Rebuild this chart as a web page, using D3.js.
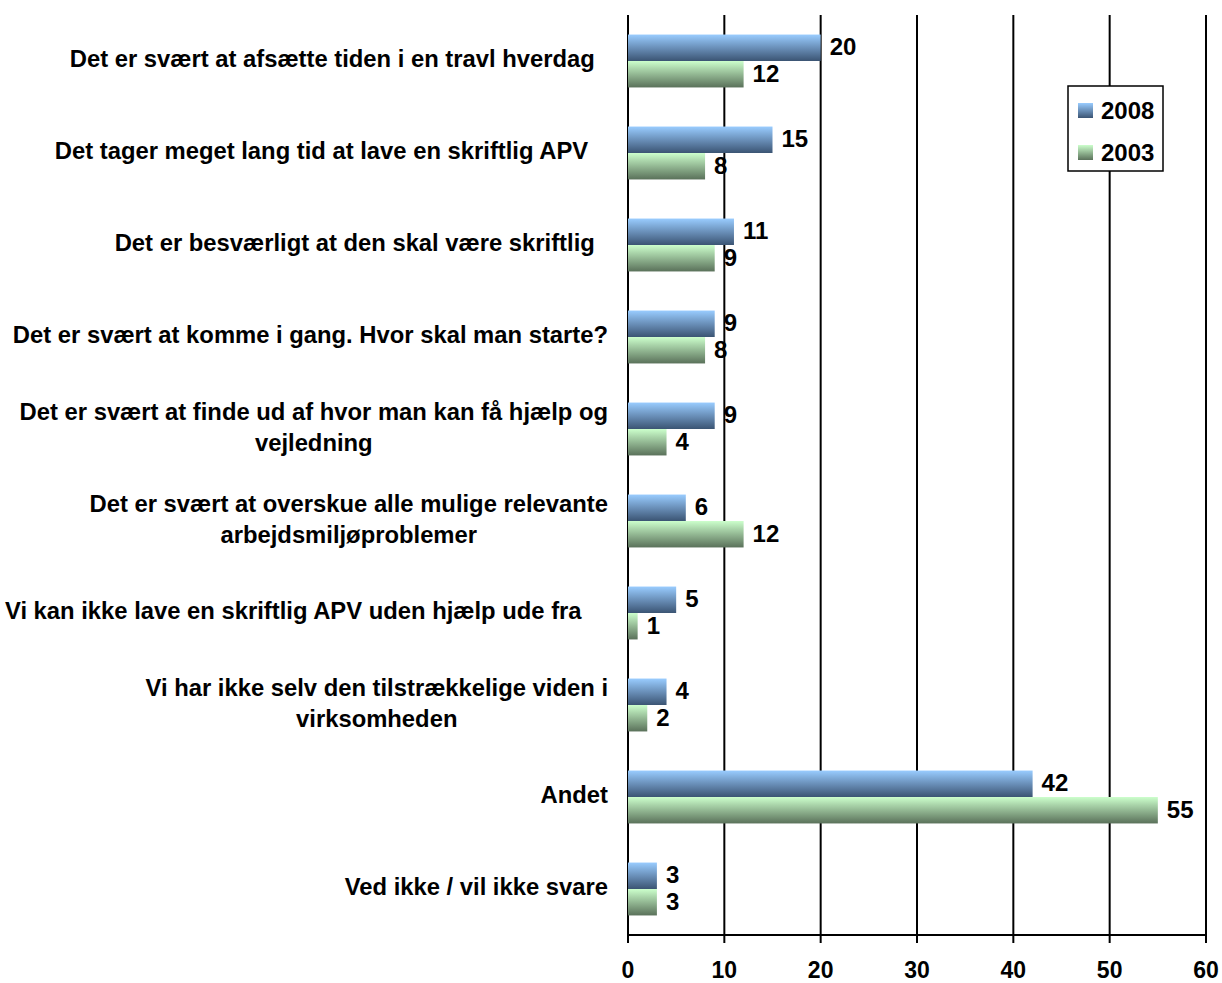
<!DOCTYPE html>
<html>
<head>
<meta charset="utf-8">
<script src="https://cdn.jsdelivr.net/npm/d3@7"></script>
<style>
  body { margin: 0; background: #fff; }
  text { font-family: "Liberation Sans", Arial, sans-serif; font-weight: bold; fill: #000; }
</style>
</head>
<body>
<div id="chart"></div>
<script>
// categories, top to bottom (\n = line break, trailing spaces as in the original)
const categories = [
    "Det er svært at afsætte tiden i en travl hverdag  ",
    "Det tager meget lang tid at lave en skriftlig APV   ",
    "Det er besværligt at den skal være skriftlig  ",
    "Det er svært at komme i gang. Hvor skal man starte?",
    "Det er svært at finde ud af hvor man kan få hjælp og\nvejledning",
    "Det er svært at overskue alle mulige relevante\narbejdsmiljøproblemer",
    "Vi kan ikke lave en skriftlig APV uden hjælp ude fra    ",
    "Vi har ikke selv den tilstrækkelige viden i\nvirksomheden",
    "Andet",
    "Ved ikke / vil ikke svare"
];
const series = ["2008", "2003"];
const values2008 = [20, 15, 11, 9, 9, 6, 5, 4, 42, 3];
const values2003 = [12, 8, 9, 8, 4, 12, 1, 2, 55, 3];
const xTicks = [0, 10, 20, 30, 40, 50, 60];

const width = 1222, height = 983;
const margin = { top: 15, right: 16, bottom: 48, left: 628 };

const svg = d3.select("#chart").append("svg")
    .attr("width", width)
    .attr("height", height);

const defs = svg.append("defs");
const grads = [
    { id: "g2008", top: "#99ccff", bottom: "#3b5473" },
    { id: "g2003", top: "#ccffcc", bottom: "#5a715a" }
];
grads.forEach(g => {
    const lg = defs.append("linearGradient").attr("id", g.id)
        .attr("x1", 0).attr("y1", 0).attr("x2", 0).attr("y2", 1);
    lg.append("stop").attr("offset", "0%").attr("stop-color", g.top);
    lg.append("stop").attr("offset", "100%").attr("stop-color", g.bottom);
});
const fillFor = { "2008": "url(#g2008)", "2003": "url(#g2003)" };

const x = d3.scaleLinear()
    .domain([0, 60])
    .range([margin.left, width - margin.right]);

const y = d3.scaleBand()
    .domain(d3.range(categories.length))
    .range([margin.top, height - margin.bottom])
    .paddingInner(0.425)
    .paddingOuter(0.2125);

const ySub = d3.scaleBand()
    .domain(series)
    .range([0, y.bandwidth()]);

const plotBottom = height - margin.bottom;

// vertical gridlines (extend down as tick marks)
svg.append("g")
    .selectAll("line")
    .data(xTicks)
    .join("line")
    .attr("x1", d => x(d)).attr("x2", d => x(d))
    .attr("y1", margin.top).attr("y2", plotBottom + 8)
    .attr("stroke", "#000")
    .attr("stroke-width", 2);

// x axis line
svg.append("line")
    .attr("x1", x(0)).attr("x2", x(60))
    .attr("y1", plotBottom).attr("y2", plotBottom)
    .attr("stroke", "#000")
    .attr("stroke-width", 2);

// tick labels
svg.append("g")
    .selectAll("text")
    .data(xTicks)
    .join("text")
    .attr("x", d => x(d))
    .attr("y", plotBottom + 43)
    .attr("text-anchor", "middle")
    .style("font-size", "23px")
    .text(d => d);

// bars
const rows = categories.map((c, i) => ({ i, "2008": values2008[i], "2003": values2003[i] }));

const groups = svg.append("g")
    .selectAll("g")
    .data(rows)
    .join("g")
    .attr("transform", d => `translate(0,${y(d.i)})`);

groups.selectAll("rect")
    .data(d => series.map(s => ({ s, v: d[s] })))
    .join("rect")
    .attr("x", x(0))
    .attr("y", d => ySub(d.s))
    .attr("width", d => x(d.v) - x(0))
    .attr("height", ySub.bandwidth())
    .attr("fill", d => fillFor[d.s]);

groups.selectAll("text.val")
    .data(d => series.map(s => ({ s, v: d[s] })))
    .join("text")
    .attr("class", "val")
    .attr("x", d => x(d.v) + 9)
    .attr("y", d => ySub(d.s) + ySub.bandwidth() / 2 - 1)
    .attr("dy", "0.35em")
    .style("font-size", "24px")
    .text(d => d.v);

// category labels
const labelX = margin.left - 20;
svg.append("g")
    .selectAll("text")
    .data(categories.map((c, i) => ({ lines: c.split("\n"), i })))
    .join("text")
    .attr("text-anchor", "end")
    .style("font-size", "23.8px")
    .style("white-space", "pre")
    .each(function (d) {
        const t = d3.select(this);
        const cy = y(d.i) + y.bandwidth() / 2 - 2;
        const lh = 31;
        const n = d.lines.length;
        if (n === 1) {
            t.append("tspan").attr("x", labelX).attr("y", cy).attr("dy", "0.35em").text(d.lines[0]);
        } else {
            // centre the lines on each other, block right aligned
            t.attr("text-anchor", "middle");
            const tmp = t.append("tspan").text(d.lines[0]);
            const w = tmp.node().getComputedTextLength();
            tmp.remove();
            const mid = labelX - w / 2;
            d.lines.forEach((ln, k) => {
                t.append("tspan")
                    .attr("x", mid)
                    .attr("y", cy + (k - (n - 1) / 2) * lh)
                    .attr("dy", "0.35em")
                    .text(ln);
            });
        }
    });

// legend
const legend = svg.append("g").attr("transform", "translate(1068,86)");
legend.append("rect")
    .attr("width", 95).attr("height", 85)
    .attr("fill", "#fff")
    .attr("stroke", "#000")
    .attr("stroke-width", 1.5);
series.forEach((s, k) => {
    legend.append("rect")
        .attr("x", 10).attr("y", 17 + k * 42)
        .attr("width", 15).attr("height", 15)
        .attr("fill", fillFor[s]);
    legend.append("text")
        .attr("x", 33).attr("y", 25 + k * 42)
        .attr("dy", "0.35em")
        .style("font-size", "24px")
        .text(s);
});
</script>
</body>
</html>
